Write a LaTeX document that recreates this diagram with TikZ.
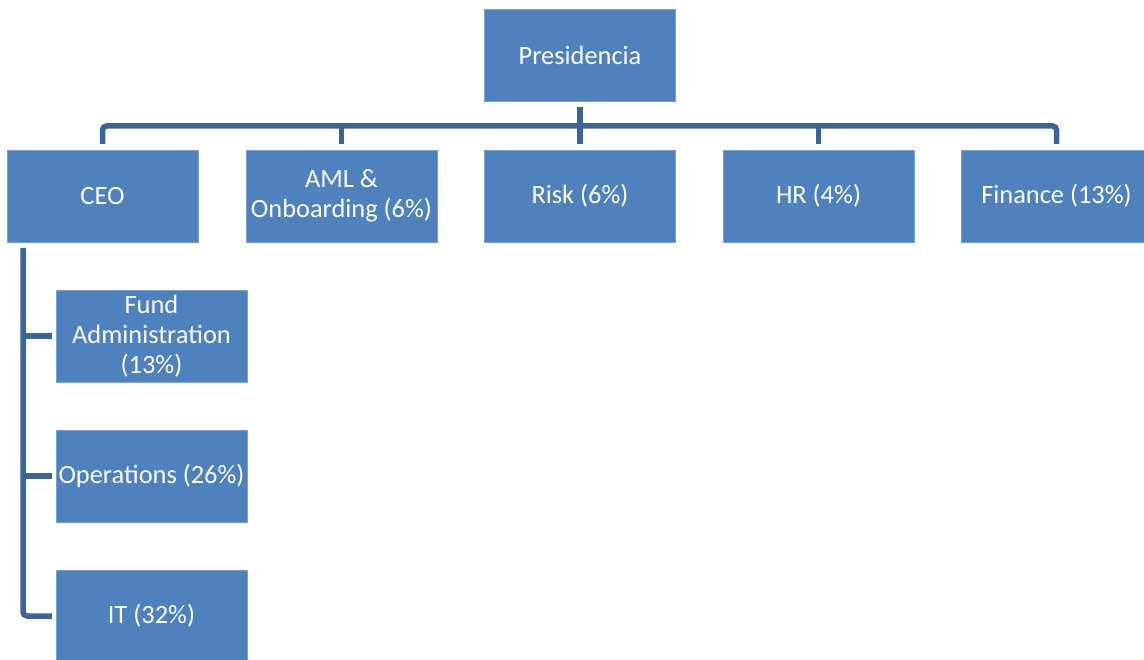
\documentclass[tikz,border=0pt]{standalone}
\usepackage{fontspec}
\setmainfont{Carlito}
\usetikzlibrary{calc}
\definecolor{boxblue}{HTML}{4F81BD}
\definecolor{linkblue}{HTML}{3C6595}
\definecolor{edgeblue}{HTML}{7DA0CE}
\tikzset{
  orgbox/.style={rectangle, fill=boxblue, draw=edgeblue, line width=0.8pt,
    minimum width=191, minimum height=92, inner sep=0pt, outer sep=0pt,
    text=white, align=center, font=\fontsize{26.4}{30}\selectfont},
  link/.style={draw=linkblue, line width=5.5pt, rounded corners=4pt}
}
\begin{document}
\begin{tikzpicture}[x=1pt,y=-1pt]
\useasboundingbox (0,0) rectangle (1144,660);
\clip (0,0) rectangle (1144,660);
\node[orgbox] (pres) at (580,55.5) {Presidencia};
\node[orgbox] (ceo) at (102.5,196) {CEO};
\node[orgbox] (aml) at (341.5,196) {AML \&\\Onboarding (6\%)};
\node[orgbox] (risk) at (580,196) {Risk (6\%)};
\node[orgbox] (hr) at (818.5,196) {HR (4\%)};
\node[orgbox] (fin) at (1056.5,196) {Finance (13\%)};
\node[orgbox] (fund) at (151.5,336) {Fund\\Administration\\(13\%)};
\node[orgbox] (ops) at (151.5,476) {Operations (26\%)};
\node[orgbox] (it) at (151.5,616) {IT (32\%)};
\coordinate (bar) at (0,126);
\coordinate (trunk) at ($(ceo.south west)+(16,0)$);
% top level
\draw[link] ($(pres.south)+(0,6)$) -- ($(risk.north)+(0,-6)$);
\draw[link] ($(ceo.north)+(0,-6)$) -- (ceo.north |- bar) -- (fin.north |- bar) -- ($(fin.north)+(0,-6)$);
\draw[link] (aml.north |- bar) -- ($(aml.north)+(0,-6)$);
\draw[link] (hr.north |- bar) -- ($(hr.north)+(0,-6)$);
% CEO branch
\draw[link] ($(trunk)+(0,6)$) -- (trunk |- it.west) -- ($(it.west)+(-4,0)$);
\draw[link] (trunk |- fund.west) -- ($(fund.west)+(-4,0)$);
\draw[link] (trunk |- ops.west) -- ($(ops.west)+(-4,0)$);
\end{tikzpicture}
\end{document}
